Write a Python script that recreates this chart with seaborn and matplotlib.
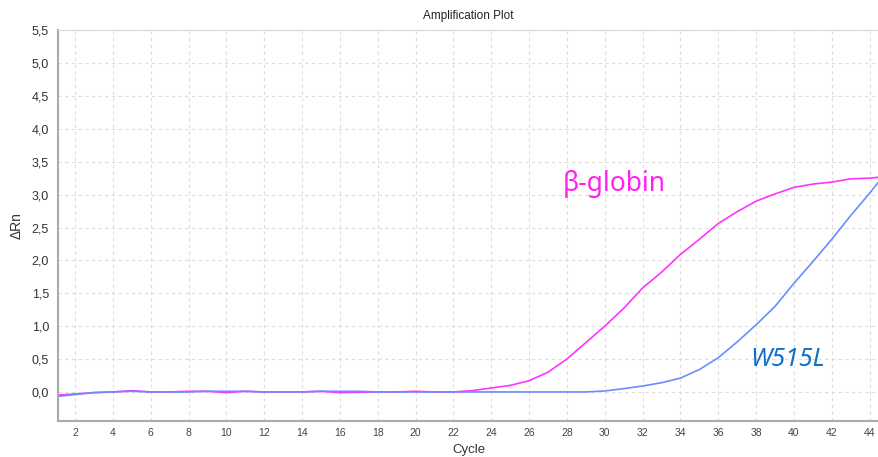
import matplotlib.pyplot as plt
import matplotlib.ticker as mticker
import pandas as pd
import seaborn as sns

cycles = list(range(1, 46))
beta_globin = [-0.05, -0.03, -0.01, 0.0, 0.02, 0.0, 0.0, 0.01, 0.01, -0.01,
               0.01, 0.0, 0.0, 0.0, 0.01, -0.01, -0.005, 0.0, 0.0, 0.01,
               0.0, 0.0, 0.02, 0.06, 0.1, 0.17, 0.3, 0.5, 0.75, 1.0,
               1.27, 1.58, 1.82, 2.09, 2.32, 2.56, 2.74, 2.9, 3.01, 3.11,
               3.16, 3.19, 3.24, 3.25, 3.28]
w515l = [-0.07, -0.04, -0.01, 0.0, 0.01, 0.0, 0.0, 0.0, 0.01, 0.01,
         0.01, 0.0, 0.0, 0.0, 0.01, 0.01, 0.01, 0.0, 0.0, 0.0,
         0.0, 0.0, 0.0, 0.0, 0.0, 0.0, 0.0, 0.0, 0.0, 0.015,
         0.05, 0.09, 0.14, 0.21, 0.34, 0.52, 0.76, 1.02, 1.3, 1.65,
         1.98, 2.32, 2.68, 3.02, 3.38]

df = pd.DataFrame({"Cycle": cycles * 2,
                   "dRn": beta_globin + w515l,
                   "target": ["β-globin"] * 45 + ["W515L"] * 45})

sns.set_style("white")
plt.rcParams["font.family"] = ["Liberation Sans", "DejaVu Sans"]

fig = plt.figure(figsize=(8.79, 4.57), dpi=100)
ax = fig.add_axes([0.066, 0.079, 0.934, 0.855])

sns.lineplot(data=df, x="Cycle", y="dRn", hue="target",
             palette={"β-globin": "#ff33ff", "W515L": "#6a8cff"},
             linewidth=1.2, legend=False, ax=ax)

ax.set_xlim(1.1, 44.5)
ax.set_ylim(-0.44, 5.5)
ax.xaxis.set_major_locator(mticker.MultipleLocator(2))
ax.yaxis.set_major_locator(mticker.MultipleLocator(0.5))
ax.yaxis.set_major_formatter(mticker.FuncFormatter(lambda v, p: f"{v:.1f}".replace(".", ",")))
ax.grid(True, color="#dddddd", linestyle=(0, (3, 3)), linewidth=0.8)

for s in ["left", "bottom"]:
    ax.spines[s].set_color("#aaaaaa")
    ax.spines[s].set_linewidth(1.5)
ax.spines["top"].set_color("#d8d8d8")
ax.spines["right"].set_visible(False)

ax.tick_params(axis="x", labelsize=7.5, colors="#444444", length=3, width=0.8, pad=2)
ax.tick_params(axis="y", labelsize=9, colors="#333333", length=3, width=0.8)
ax.tick_params(axis="both", color="#888888")

ax.set_xlabel("Cycle", fontsize=9.5, color="#333333", labelpad=4.5)
ax.set_ylabel("ΔRn", fontsize=10, color="#333333", labelpad=6)
ax.set_title("Amplification Plot", fontsize=8.5, color="#222222", pad=8)

ax.text(27.8, 3.05, "β-globin", color="#ff22ee", fontsize=19,
        family=["Noto Sans", "DejaVu Sans"])
ax.text(37.7, 0.4, "W515L", color="#1070c8", fontsize=18, style="italic",
        family=["Noto Sans", "DejaVu Sans"])

plt.savefig("out.png", dpi=100)
